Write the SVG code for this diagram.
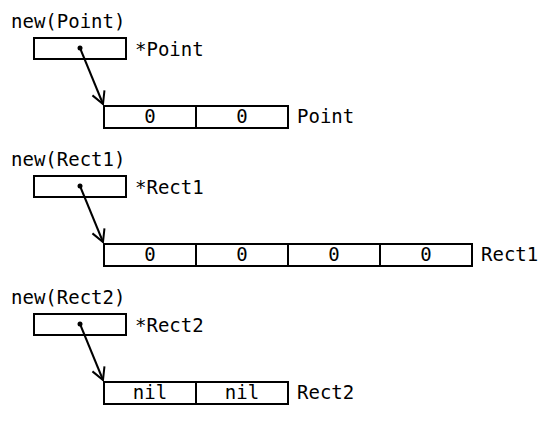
<svg xmlns="http://www.w3.org/2000/svg" width="546" height="423" viewBox="0 0 546 423">
<defs>
<style>
text{font-family:"DejaVu Sans Mono","Liberation Mono",monospace;font-size:19px;fill:#000}
.c{text-anchor:middle}
.box{fill:#fff;stroke:#000;stroke-width:2}
.div{stroke:#000;stroke-width:2}
.conn{stroke:#000;stroke-width:2;fill:none;marker-end:url(#arr)}
</style>
<marker id="arr" markerUnits="userSpaceOnUse" markerWidth="20" markerHeight="20" viewBox="-14 -10 16 20" refX="0" refY="0" orient="auto">
<path d="M-12,-6.5 L0,0 L-12,6.5" fill="none" stroke="#000" stroke-width="2"/>
</marker>
</defs>
<rect width="546" height="423" fill="#fff"/>
<g id="point-ptr">
<text x="11" y="28">new(Point)</text>
<rect class="box" x="34" y="38" width="92" height="21"/>
<circle cx="80" cy="48" r="2.5" fill="#000"/>
<text x="135" y="56">*Point</text>
</g>
<g id="point-struct">
<rect class="box" x="104" y="106" width="184" height="22"/>
<line class="div" x1="196" y1="106" x2="196" y2="128"/>
<text class="c" x="150" y="123">0</text>
<text class="c" x="242" y="123">0</text>
<text x="297" y="123">Point</text>
</g>
<g id="rect1-ptr">
<text x="11" y="166">new(Rect1)</text>
<rect class="box" x="34" y="176" width="92" height="21"/>
<circle cx="80" cy="186" r="2.5" fill="#000"/>
<text x="135" y="194">*Rect1</text>
</g>
<g id="rect1-struct">
<rect class="box" x="104" y="244" width="368" height="22"/>
<line class="div" x1="196" y1="244" x2="196" y2="266"/>
<line class="div" x1="288" y1="244" x2="288" y2="266"/>
<line class="div" x1="380" y1="244" x2="380" y2="266"/>
<text class="c" x="150" y="261">0</text>
<text class="c" x="242" y="261">0</text>
<text class="c" x="334" y="261">0</text>
<text class="c" x="426" y="261">0</text>
<text x="481" y="261">Rect1</text>
</g>
<g id="rect2-ptr">
<text x="11" y="304">new(Rect2)</text>
<rect class="box" x="34" y="314" width="92" height="21"/>
<circle cx="80" cy="324" r="2.5" fill="#000"/>
<text x="135" y="332">*Rect2</text>
</g>
<g id="rect2-struct">
<rect class="box" x="104" y="382" width="184" height="22"/>
<line class="div" x1="196" y1="382" x2="196" y2="404"/>
<text class="c" x="150" y="399">nil</text>
<text class="c" x="242" y="399">nil</text>
<text x="297" y="399">Rect2</text>
</g>
<g id="connectors">
<line class="conn" x1="80" y1="48" x2="103" y2="104"/>
<line class="conn" x1="80" y1="186" x2="103" y2="242"/>
<line class="conn" x1="80" y1="324" x2="103" y2="380"/>
</g>
</svg>
